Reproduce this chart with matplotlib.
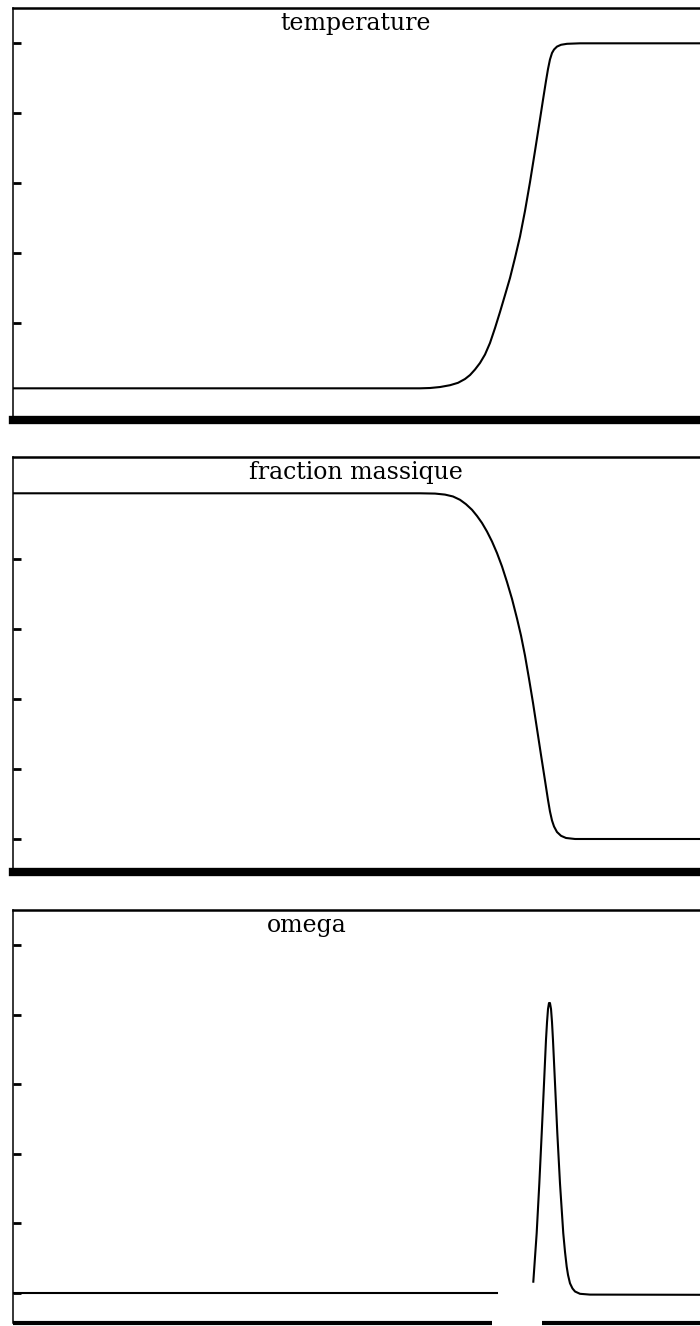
import numpy as np
import matplotlib.pyplot as plt

# profils le long de x (normalises)
x_temp = [0.0, 0.5814, 0.5957, 0.6100, 0.6243, 0.6357, 0.6457, 0.6529, 0.6600,
          0.6671, 0.6743, 0.6814, 0.6886, 0.6957, 0.7029, 0.7100, 0.7171,
          0.7243, 0.7314, 0.7386, 0.7457, 0.7529, 0.7571, 0.7614, 0.7643,
          0.7671, 0.7700, 0.7729, 0.7771, 0.7829, 0.7914, 0.8100, 1.0]
temp = [0.0134, 0.0134, 0.0143, 0.0171, 0.0223, 0.0291, 0.0400, 0.0514, 0.0671,
        0.0857, 0.1100, 0.1429, 0.1857, 0.2314, 0.2800, 0.3286, 0.3857,
        0.4471, 0.5200, 0.6029, 0.6914, 0.7829, 0.8371, 0.8914, 0.9257,
        0.9529, 0.9714, 0.9814, 0.9897, 0.9949, 0.9977, 0.9991, 0.9991]

x_frac = [0.0, 0.5814, 0.6029, 0.6171, 0.6286, 0.6386, 0.6471, 0.6557, 0.6629,
          0.6700, 0.6771, 0.6843, 0.6914, 0.6986, 0.7057, 0.7129, 0.7200,
          0.7257, 0.7314, 0.7371, 0.7429, 0.7486, 0.7543, 0.7600, 0.7643,
          0.7671, 0.7700, 0.7729, 0.7771, 0.7829, 0.7900, 0.8029, 1.0]
frac = [0.9877, 0.9877, 0.9869, 0.9840, 0.9786, 0.9691, 0.9566, 0.9406, 0.9229,
        0.9029, 0.8786, 0.8500, 0.8171, 0.7786, 0.7343, 0.6857, 0.6300,
        0.5814, 0.5243, 0.4586, 0.3886, 0.3143, 0.2400, 0.1671, 0.1114,
        0.0786, 0.0529, 0.0357, 0.0200, 0.0091, 0.0029, 0.0, 0.0]

# la trace d'omega est interrompue au pied gauche du pic
x_omega = [0.0, 0.6914, np.nan, 0.7433, 0.7481, 0.7519, 0.7553, 0.7586, 0.7614,
           0.7629, 0.7643, 0.7657, 0.7671, 0.7686, 0.7700, 0.7714, 0.7743,
           0.7776, 0.7814, 0.7861, 0.7886, 0.7910, 0.7929, 0.7957, 0.7993,
           0.8029, 0.8100, 0.8243, 1.0]
omega = [0.0, 0.0, np.nan, 0.0325, 0.1716, 0.3153, 0.4589, 0.6026, 0.7270,
         0.7787, 0.8161, 0.8333, 0.8333, 0.8161, 0.7787, 0.7270, 0.6026,
         0.4589, 0.3153, 0.1716, 0.1178, 0.0756, 0.0517, 0.0279, 0.0129,
         0.0043, -0.0023, -0.0046, -0.0052]

titles = ['temperature', 'fraction massique', 'omega']
title_x = [0.49, 0.49, 0.42]
ticks = [[0.2, 0.4, 0.6, 0.8, 1.0],
         [0.0, 0.2, 0.4, 0.6, 0.8],
         [0.0, 0.2, 0.4, 0.6, 0.8, 1.0]]

W, H = 700, 1326
fig = plt.figure(figsize=(W / 100, H / 100), dpi=100)

# (haut, bas) de chaque cadre en pixels, limites y
frames = [(8, 420, (-0.0771, 1.1)),
          (457, 872, (-0.0943, 1.0914)),
          (910, 1323, (-0.0862, 1.1006))]
series = [(x_temp, temp), (x_frac, frac), (x_omega, omega)]

for i, ((top, bot, ylim), (xs, ys)) in enumerate(zip(frames, series)):
    ax = fig.add_axes([13 / W, 1 - bot / H, 700 / W, (bot - top) / H])
    ax.plot(xs, ys, color='black', lw=1.5, solid_joinstyle='round')
    ax.set_xlim(0, 1)
    ax.set_ylim(*ylim)
    ax.set_yticks(ticks[i])
    ax.set_xticks([])
    ax.tick_params(axis='y', direction='in', length=6, width=2,
                   labelleft=False)
    ax.spines['right'].set_visible(False)
    ax.spines['left'].set_linewidth(1.1)
    ax.spines['top'].set_linewidth(1.8)
    if i < 2:
        ax.spines['bottom'].set_linewidth(6)
    else:
        ax.spines['bottom'].set_visible(False)
        trans = ax.get_xaxis_transform()
        ax.plot([0, 0.684], [0, 0], transform=trans, color='black', lw=3,
                solid_capstyle='butt', clip_on=False)
        ax.plot([0.756, 1.0], [0, 0], transform=trans, color='black', lw=3,
                solid_capstyle='butt', clip_on=False)
    ax.text(title_x[i], 0.99, titles[i], transform=ax.transAxes,
            ha='center', va='top', fontsize=17, family='DejaVu Serif')

fig.savefig('out.png', dpi=100)
